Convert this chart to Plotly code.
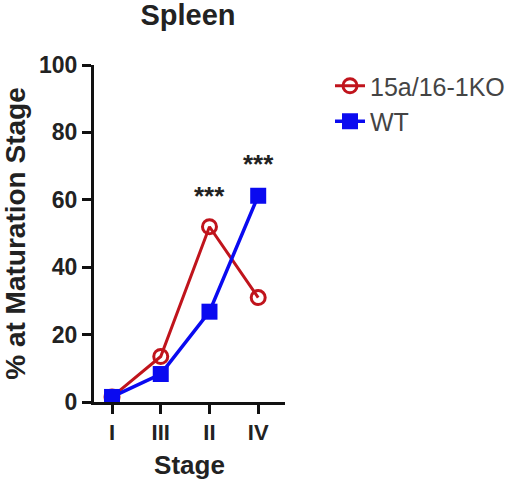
import plotly.graph_objects as go

# Datos
stages = ["I", "III", "II", "IV"]
ko_vals = [1.5, 13.5, 52, 31]
wt_vals = [1.5, 8.3, 26.8, 61.2]
sig_labels = ["", "", "***", "***"]
sig_y = [None, None, 61, 70.5]

_RED = "#C0141C"
_BLUE = "#0A0AF0"
_FONT = "Liberation Sans, Arial, sans-serif"

fig = go.Figure()
fig.add_scatter(x=stages, y=ko_vals, name="15a/16-1KO", mode="lines+markers",
                line=dict(color=_RED, width=3),
                marker=dict(symbol="circle-open", size=14, color=_RED,
                            line=dict(color=_RED, width=3)))
fig.add_scatter(x=stages, y=wt_vals, name="WT", mode="lines+markers",
                line=dict(color=_BLUE, width=3.5),
                marker=dict(symbol="square", size=16, color=_BLUE))

for st, lab, yy in zip(stages, sig_labels, sig_y):
    if lab:
        fig.add_annotation(x=st, y=yy, text=lab, showarrow=False,
                           font=dict(size=26, color="#222", weight="bold"))

fig.update_layout(
    width=520, height=490,
    paper_bgcolor="white", plot_bgcolor="white",
    margin=dict(l=94, r=235, t=65, b=88, autoexpand=False),
    font=dict(family=_FONT, color="#222"),
    title=dict(text="Spleen", x=188 / 520, xanchor="center",
               y=1 - 15 / 490, yanchor="middle",
               font=dict(size=29, weight="bold")),
    showlegend=True,
    legend=dict(xref="container", yref="container",
                x=330 / 520, y=1 - 63 / 490, xanchor="left", yanchor="top",
                font=dict(size=25, color="#444"), tracegroupgap=0,
                bgcolor="rgba(0,0,0,0)"),
    xaxis=dict(type="category", range=[-0.37, 3.55], showline=True,
               linecolor="#111", linewidth=3, ticks="outside", ticklen=9,
               tickwidth=3, tickcolor="#111", showgrid=False, zeroline=False,
               tickfont=dict(size=22, color="#222", weight="bold"),
               title=dict(text="Stage", font=dict(size=26, weight="bold"),
                          standoff=12)),
    yaxis=dict(range=[0, 100], tickvals=[0, 20, 40, 60, 80, 100], showline=True,
               linecolor="#111", linewidth=3, ticks="outside", ticklen=9,
               tickwidth=3, tickcolor="#111", showgrid=False, zeroline=False,
               tickfont=dict(size=23, color="#222", weight="bold"),
               title=dict(text="% at Maturation Stage",
                          font=dict(size=28, weight="bold"), standoff=6)),
)

fig.write_html("out.html", config={"displayModeBar": False},
               post_script="document.body.style.margin='0';")
